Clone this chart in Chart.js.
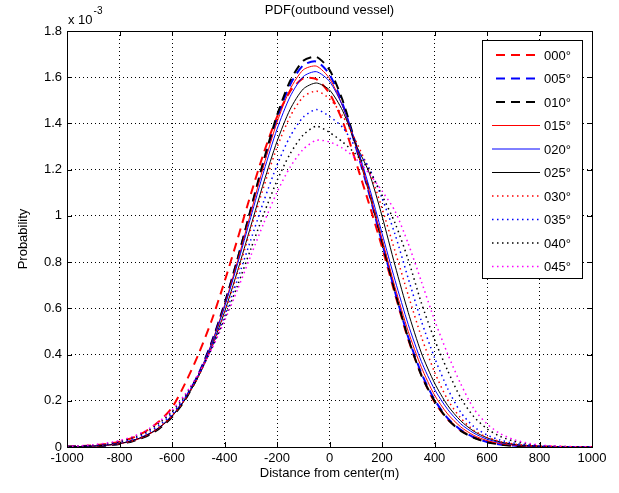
<!DOCTYPE html>
<html>
<head>
<meta charset="utf-8">
<script src="https://cdn.jsdelivr.net/npm/chart.js@4.4.0/dist/chart.umd.min.js"></script>
<style>
  html, body { margin: 0; padding: 0; background: #fff; }
  #wrap { width: 619px; height: 493px; }
</style>
</head>
<body>
<div id="wrap"><canvas id="pdfChart"></canvas></div>
<script>
// distance from center (m), one sample every 50 m
const distance = [-1000, -950, -900, -850, -800, -750, -700, -650, -600, -550, -500, -450, -400, -350, -300, -250, -200, -150, -100, -50,
  0, 50, 100, 150, 200, 250, 300, 350, 400, 450, 500, 550, 600, 650, 700, 750, 800, 850, 900, 950, 1000];

// probability, in units of 10^-3 (as on the axis)
const pdf000 = [0.002, 0.004, 0.007, 0.013, 0.023, 0.040, 0.068, 0.110, 0.170, 0.275, 0.399, 0.544, 0.715, 0.901, 1.093, 1.274, 1.428, 1.539, 1.595, 1.592,
  1.530, 1.410, 1.235, 1.055, 0.865, 0.660, 0.465, 0.312, 0.195, 0.120, 0.072, 0.041, 0.023, 0.012, 0.006, 0.003, 0.0015, 0.001, 0.0004, 0.0002, 0.0001];
const pdf005 = [0.001, 0.002, 0.004, 0.007, 0.014, 0.027, 0.048, 0.081, 0.133, 0.209, 0.314, 0.451, 0.620, 0.815, 1.026, 1.235, 1.422, 1.567, 1.652, 1.668,
  1.612, 1.485, 1.300, 1.100, 0.885, 0.670, 0.475, 0.320, 0.205, 0.125, 0.074, 0.042, 0.022, 0.011, 0.006, 0.003, 0.0013, 0.0005, 0.0002, 0.0001, 0];
const pdf010 = [0.0007, 0.0015, 0.003, 0.007, 0.013, 0.025, 0.045, 0.078, 0.129, 0.204, 0.309, 0.447, 0.617, 0.815, 1.029, 1.243, 1.435, 1.584, 1.671, 1.688,
  1.632, 1.500, 1.310, 1.110, 0.890, 0.670, 0.470, 0.310, 0.200, 0.120, 0.070, 0.040, 0.021, 0.011, 0.005, 0.0025, 0.001, 0.0005, 0.0002, 0.0001, 0];
const pdf015 = [0.001, 0.002, 0.0035, 0.007, 0.014, 0.026, 0.047, 0.081, 0.132, 0.207, 0.311, 0.446, 0.613, 0.806, 1.013, 1.220, 1.405, 1.548, 1.632, 1.648,
  1.595, 1.475, 1.305, 1.110, 0.900, 0.690, 0.500, 0.345, 0.225, 0.143, 0.087, 0.050, 0.028, 0.015, 0.008, 0.004, 0.002, 0.001, 0.0004, 0.0002, 0.0001];
const pdf020 = [0.001, 0.002, 0.004, 0.008, 0.015, 0.028, 0.049, 0.083, 0.135, 0.209, 0.311, 0.443, 0.606, 0.793, 0.994, 1.194, 1.375, 1.516, 1.603, 1.624,
  1.582, 1.475, 1.315, 1.130, 0.925, 0.720, 0.530, 0.370, 0.250, 0.163, 0.100, 0.060, 0.034, 0.019, 0.010, 0.005, 0.0025, 0.001, 0.0005, 0.0002, 0.0001];
const pdf025 = [0.001, 0.002, 0.004, 0.008, 0.015, 0.028, 0.049, 0.083, 0.133, 0.205, 0.303, 0.429, 0.584, 0.763, 0.955, 1.147, 1.322, 1.461, 1.549, 1.575,
  1.545, 1.455, 1.310, 1.190, 1.000, 0.784, 0.582, 0.407, 0.277, 0.180, 0.113, 0.068, 0.040, 0.022, 0.012, 0.006, 0.003, 0.0015, 0.0007, 0.0003, 0.0001];
const pdf030 = [0.001, 0.002, 0.004, 0.009, 0.016, 0.029, 0.051, 0.085, 0.135, 0.207, 0.304, 0.429, 0.581, 0.755, 0.942, 1.128, 1.296, 1.430, 1.515, 1.540,
  1.507, 1.433, 1.325, 1.200, 1.033, 0.846, 0.657, 0.477, 0.325, 0.205, 0.125, 0.072, 0.042, 0.024, 0.013, 0.007, 0.0035, 0.0017, 0.0008, 0.0004, 0.0002];
const pdf035 = [0.0015, 0.003, 0.006, 0.011, 0.020, 0.035, 0.058, 0.093, 0.144, 0.215, 0.308, 0.426, 0.566, 0.726, 0.896, 1.065, 1.219, 1.344, 1.427, 1.460,
  1.430, 1.383, 1.296, 1.209, 1.077, 0.919, 0.729, 0.545, 0.387, 0.253, 0.150, 0.088, 0.052, 0.030, 0.017, 0.009, 0.0045, 0.002, 0.001, 0.0005, 0.0002];
const pdf040 = [0.002, 0.004, 0.008, 0.014, 0.024, 0.041, 0.065, 0.102, 0.153, 0.222, 0.312, 0.423, 0.554, 0.700, 0.856, 1.010, 1.152, 1.269, 1.350, 1.388,
  1.361, 1.320, 1.267, 1.200, 1.089, 0.968, 0.810, 0.623, 0.465, 0.331, 0.212, 0.131, 0.079, 0.046, 0.026, 0.014, 0.007, 0.0035, 0.0017, 0.0008, 0.0004];
const pdf045 = [0.003, 0.005, 0.010, 0.017, 0.028, 0.045, 0.071, 0.109, 0.160, 0.228, 0.315, 0.421, 0.545, 0.682, 0.827, 0.970, 1.102, 1.211, 1.288, 1.327,
  1.320, 1.293, 1.248, 1.185, 1.108, 1.020, 0.880, 0.716, 0.550, 0.403, 0.273, 0.165, 0.100, 0.058, 0.033, 0.018, 0.009, 0.0045, 0.0022, 0.001, 0.0005];

const headings = ["000°", "005°", "010°", "015°", "020°", "025°", "030°", "035°", "040°", "045°"];
const series = [pdf000, pdf005, pdf010, pdf015, pdf020, pdf025, pdf030, pdf035, pdf040, pdf045];
const xTicks = [-1000, -800, -600, -400, -200, 0, 200, 400, 600, 800, 1000];
const yTicks = [0, 0.2, 0.4, 0.6, 0.8, 1, 1.2, 1.4, 1.6, 1.8];

// MATLAB-like line specs: '--r' '--b' '--k' '-r' '-b' '-k' ':r' ':b' ':k' ':m'
const lineColors = ["#ff0000", "#0000ff", "#000000", "#ff0000", "#0000ff", "#000000", "#ff0000", "#0000ff", "#000000", "#ff00ff"];
const lineKinds = ["dash", "dash", "dash", "solid", "solid", "solid", "dot", "dot", "dot", "dot"];

const FONT = "'Liberation Sans', Arial, sans-serif";
Chart.defaults.font.family = FONT;
Chart.defaults.font.size = 13;
Chart.defaults.color = "#000";

function styleFor(kind) {
  if (kind === "dash") return { borderWidth: 2, borderDash: [9, 6] };
  if (kind === "dot") return { borderWidth: 1.5, borderDash: [1.5, 3.5] };
  return { borderWidth: 1, borderDash: [] };
}

const datasets = series.map(function (vals, i) {
  const st = styleFor(lineKinds[i]);
  return {
    label: headings[i],
    data: distance.map(function (d, k) { return { x: d, y: vals[k] }; }),
    borderColor: lineColors[i],
    backgroundColor: lineColors[i],
    borderWidth: st.borderWidth,
    borderDash: st.borderDash,
    pointRadius: 0,
    tension: 0.25,
    fill: false,
    order: -i
  };
});

// axes box, inward ticks, title, exponent and in-axes legend
const matlabLook = {
  id: "matlabLook",
  afterDatasetsDraw(chart) {
    const ctx = chart.ctx;
    const a = chart.chartArea;
    const xs = chart.scales.x, ys = chart.scales.y;
    ctx.save();
    ctx.strokeStyle = "#000";
    ctx.lineWidth = 1;
    ctx.setLineDash([]);
    ctx.strokeRect(Math.round(a.left) + 0.5, Math.round(a.top) + 0.5,
      Math.round(a.right - a.left), Math.round(a.bottom - a.top));
    const tl = 5;
    ctx.beginPath();
    xTicks.forEach(function (v) {
      const px = Math.round(xs.getPixelForValue(v)) + 0.5;
      ctx.moveTo(px, a.bottom); ctx.lineTo(px, a.bottom - tl);
      ctx.moveTo(px, a.top); ctx.lineTo(px, a.top + tl);
    });
    yTicks.forEach(function (v) {
      const py = Math.round(ys.getPixelForValue(v)) + 0.5;
      ctx.moveTo(a.left, py); ctx.lineTo(a.left + tl, py);
      ctx.moveTo(a.right, py); ctx.lineTo(a.right - tl, py);
    });
    ctx.stroke();
    ctx.restore();
  },
  afterDraw(chart) {
    const ctx = chart.ctx;
    const a = chart.chartArea;
    ctx.save();
    ctx.fillStyle = "#000";
    ctx.font = "13px " + FONT;
    ctx.textAlign = "center";
    ctx.textBaseline = "middle";
    ctx.fillText("PDF(outbound vessel)", (a.left + a.right) / 2, 10);
    ctx.textAlign = "left";
    ctx.fillText("x 10", a.left + 1, 20);
    ctx.font = "10px " + FONT;
    ctx.fillText("-3", a.left + 1 + ctx.measureText("x 10").width * 1.3 + 1, 11);

    // legend
    const bx = 482, by = 40, bw = 100, bh = 238;
    ctx.fillStyle = "#fff";
    ctx.fillRect(bx, by, bw, bh);
    ctx.strokeStyle = "#000";
    ctx.lineWidth = 1;
    ctx.strokeRect(bx + 0.5, by + 0.5, bw, bh);
    ctx.font = "13px " + FONT;
    ctx.textBaseline = "middle";
    chart.data.datasets.forEach(function (ds, i) {
      const y = by + 15 + i * 23.5;
      ctx.strokeStyle = ds.borderColor;
      ctx.lineWidth = ds.borderWidth;
      ctx.setLineDash(ds.borderDash);
      ctx.beginPath();
      ctx.moveTo(ds.borderDash.length && ds.borderWidth > 1.5 ? 496 : 492, y);
      ctx.lineTo(540, y);
      ctx.stroke();
      ctx.setLineDash([]);
      ctx.fillStyle = "#000";
      ctx.fillText(ds.label, 544, y + 1);
    });
    ctx.restore();
  }
};

new Chart(document.getElementById("pdfChart"), {
  type: "line",
  data: { datasets: datasets },
  options: {
    responsive: true,
    maintainAspectRatio: false,
    animation: false,
    devicePixelRatio: 1,
    layout: { padding: { left: 0, right: 27, top: 31, bottom: 0 } },
    plugins: {
      legend: { display: false },
      title: { display: false },
      tooltip: { enabled: false }
    },
    scales: {
      x: {
        type: "linear",
        min: -1000,
        max: 1000,
        afterFit: function (scale) { scale.height = 46; },
        ticks: {
          stepSize: 200,
          autoSkip: false,
          maxRotation: 0,
          padding: 4,
          color: "#000",
          callback: function (v) { return String(v); }
        },
        grid: { color: "#000", lineWidth: 1, drawTicks: false },
        border: { display: false, dash: [1, 3] },
        title: { display: true, text: "Distance from center(m)", color: "#000", padding: { top: 0, bottom: 12 } }
      },
      y: {
        min: 0,
        max: 1.8,
        afterFit: function (scale) { scale.width = 67; },
        ticks: {
          stepSize: 0.2,
          padding: 5,
          color: "#000",
          callback: function (v) { return String(Math.round(v * 10) / 10); }
        },
        grid: { color: "#000", lineWidth: 1, drawTicks: false },
        border: { display: false, dash: [1, 3] },
        title: { display: true, text: "Probability", color: "#000", padding: { top: 16, bottom: 0 } }
      }
    }
  },
  plugins: [matlabLook]
});
</script>
</body>
</html>
